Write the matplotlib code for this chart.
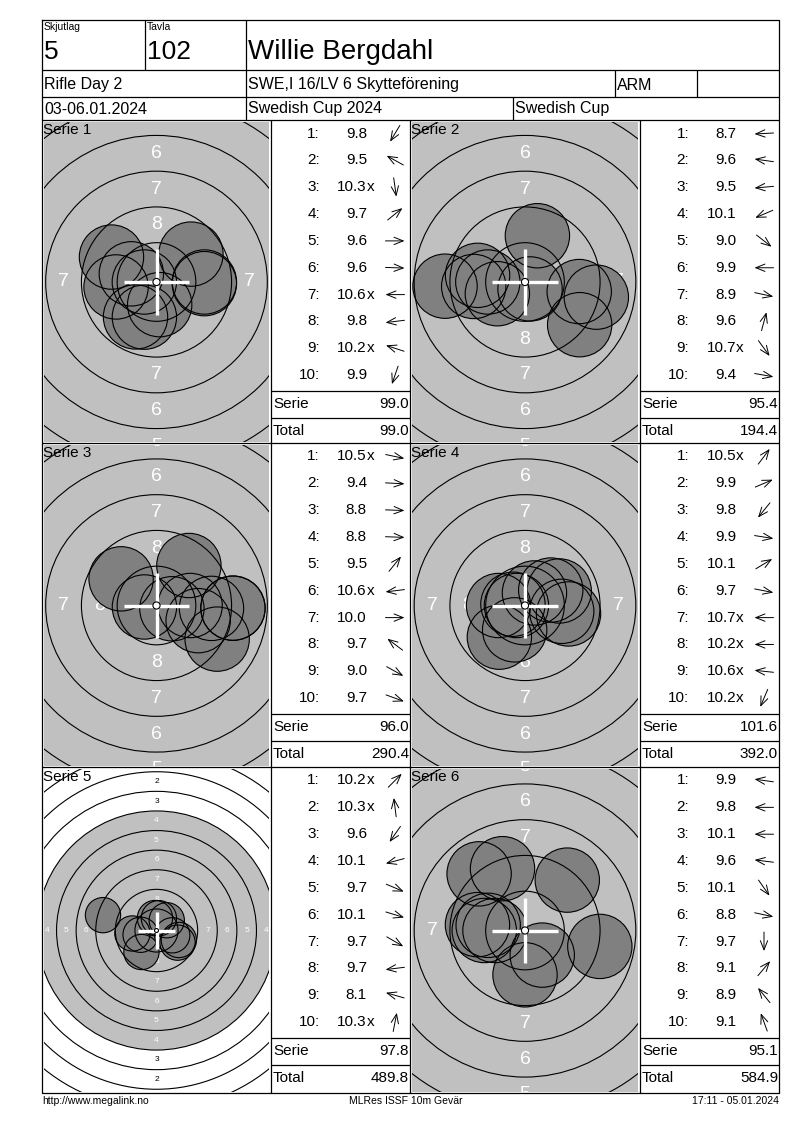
import numpy as np
import matplotlib.pyplot as plt
from matplotlib.patches import Circle

plt.rcParams['font.family'] = ['Liberation Sans', 'DejaVu Sans']

# header info
relay = "5"
lane = "102"
shooter = "Willie Bergdahl"
event = "Rifle Day 2"
club = "SWE,I 16/LV 6 Skytteförening"
nation = "ARM"
dates = "03-06.01.2024"
competition = "Swedish Cup 2024"
cup = "Swedish Cup"
footer_left = "http://www.megalink.no"
footer_mid = "MLRes ISSF 10m Gevär"
footer_right = "17:11 - 05.01.2024"

# shots per series: score (x = inner ten) and direction (degrees, 0 = right, ccw)
s1_scores = ["9.8", "9.5", "10.3x", "9.7", "9.6", "9.6", "10.6x", "9.8", "10.2x", "9.9"]
s1_dirs = [239, 151, 278, 39, 0, 358, 180, 187, 162, 251]
s2_scores = ["8.7", "9.6", "9.5", "10.1", "9.0", "9.9", "8.9", "9.6", "10.7x", "9.4"]
s2_dirs = [183, 172, 185, 203, 322, 180, 348, 75, 306, 350]
s3_scores = ["10.5x", "9.4", "8.8", "8.8", "9.5", "10.6x", "10.0", "9.7", "9.0", "9.7"]
s3_dirs = [348, 357, 358, 358, 51, 187, 0, 143, 331, 340]
s4_scores = ["10.5x", "9.9", "9.8", "9.9", "10.1", "9.7", "10.7x", "10.2x", "10.6x", "10.2x"]
s4_dirs = [53, 23, 231, 351, 31, 349, 180, 180, 174, 247]
s5_scores = ["10.2x", "10.3x", "9.6", "10.1", "9.7", "10.1", "9.7", "9.7", "8.1", "10.3x"]
s5_dirs = [45, 97, 235, 195, 337, 343, 330, 187, 164, 79]
s6_scores = ["9.9", "9.8", "10.1", "9.6", "10.1", "8.8", "9.7", "9.1", "8.9", "9.1"]
s6_dirs = [172, 180, 180, 173, 305, 348, 270, 50, 129, 110]

series_scores = [s1_scores, s2_scores, s3_scores, s4_scores, s5_scores, s6_scores]
series_dirs = [s1_dirs, s2_dirs, s3_dirs, s4_dirs, s5_dirs, s6_dirs]

# display zoom of each target (px per mm) and ring number size
px_per_mm = [14.3, 14.3, 14.3, 14.3, 7.84, 14.3]
label_size = [14, 14, 14, 14, 6, 14]

W, H = 800, 1130
fig = plt.figure(figsize=(8, 11.3), dpi=100)

# ISSF 10m air rifle target, outer radius of ring 1..10 in mm
ring_r = [0.25 + (10 - n) * 2.5 for n in range(1, 11)]
pellet_r = 2.25
GRAY = '#c0c0c0'
SHOT = '#808080'


def draw_target(k, left, top, right, bottom):
    scale = px_per_mm[k]
    tax = fig.add_axes([left / W, 1 - bottom / H, (right - left) / W, (bottom - top) / H])
    hw = (right - left) / 2 / scale
    hh = (bottom - top) / 2 / scale
    tax.set_xlim(-hw, hw)
    tax.set_ylim(-hh, hh)
    tax.axis('off')
    tax.add_patch(Circle((0, 0), ring_r[3], fc=GRAY, ec='none', zorder=1))
    # ring numbers, only those that reach into the view
    pad = 6 / scale
    for n in range(1, 9):
        rm = (ring_r[n - 1] + ring_r[n]) / 2
        col = 'white' if rm < ring_r[3] else 'black'
        for px, py in [(0, rm), (0, -rm), (-rm, 0), (rm, 0)]:
            if abs(px) > hw + pad or abs(py) > hh + pad:
                continue
            tax.text(px, py, str(n), color=col, fontsize=label_size[k],
                     ha='center', va='center', zorder=2, clip_on=True)
    scores = [float(s.rstrip('x')) for s in series_scores[k]]
    ang = np.radians(series_dirs[k])
    dist = (10.9 - np.array(scores)) * 2.5 + 0.1
    xs = dist * np.cos(ang)
    ys = dist * np.sin(ang)
    for x, y in zip(xs, ys):
        tax.add_patch(Circle((x, y), pellet_r, fc=SHOT, ec='none', zorder=3))
    for r in ring_r[:9]:
        tax.add_patch(Circle((0, 0), r, fc='none', ec='black', lw=0.8, zorder=4))
    for x, y in zip(xs, ys):
        tax.add_patch(Circle((x, y), pellet_r, fc='none', ec='black', lw=0.8, zorder=5))
    c = 2.3
    tax.plot([-c, c], [0, 0], color='white', lw=2.4, zorder=6, solid_capstyle='butt')
    tax.plot([0, 0], [-c, c], color='white', lw=2.4, zorder=6, solid_capstyle='butt')
    tax.add_patch(Circle((0, 0), ring_r[9], fc='white', ec='black', lw=0.8, zorder=7))


col_left = [42, 410]
tab_left = [271, 640]
tab_right = [410, 779]
row_top = [120, 443, 767]
row_bot = [443, 767, 1093]

for k in range(6):
    r, c = divmod(k, 2)
    draw_target(k, col_left[c] + 2, row_top[r] + 2, tab_left[c] - 2, row_bot[r] - 1)

# overlay axes in pixel coordinates for the sheet
ax = fig.add_axes([0, 0, 1, 1], zorder=10)
ax.set_xlim(0, W)
ax.set_ylim(H, 0)
ax.axis('off')

lw = 0.9
ax.plot([42, 779, 779, 42, 42], [20, 20, 1093, 1093, 20], color='black', lw=lw)
ax.hlines([70, 97, 120, 443, 767], 42, 779, color='black', lw=lw)
ax.vlines([145], 20, 70, color='black', lw=lw)
ax.vlines([246], 20, 120, color='black', lw=lw)
ax.vlines([615, 697], 70, 97, color='black', lw=lw)
ax.vlines([513], 97, 120, color='black', lw=lw)
ax.vlines([271, 410, 640], 120, 1093, color='black', lw=lw)

ax.text(44, 27, "Skjutlag", fontsize=7.5, va='center')
ax.text(147, 27, "Tavla", fontsize=7.5, va='center')
ax.text(44, 52, relay, fontsize=19, va='center')
ax.text(147, 52, lane, fontsize=19, va='center')
ax.text(248, 52, shooter, fontsize=20, va='center')
ax.text(44, 85, event, fontsize=11.5, va='center')
ax.text(248, 85, club, fontsize=11.5, va='center')
ax.text(617, 85, nation, fontsize=11.5, va='center')
ax.text(44, 109, dates, fontsize=11.5, va='center')
ax.text(248, 109, competition, fontsize=11.5, va='center')
ax.text(515, 109, cup, fontsize=11.5, va='center')

ax.text(42, 1101, footer_left, fontsize=7.5, va='center')
ax.text(406, 1101, footer_mid, fontsize=7.5, va='center', ha='center')
ax.text(779, 1101, footer_right, fontsize=7.5, va='center', ha='right')

total = 0.0
for k in range(6):
    r, c = divmod(k, 2)
    yt = row_top[r]
    tl, tr = tab_left[c], tab_right[c]
    ax.text(col_left[c] + 1, yt + 10, f"Serie {k + 1}", fontsize=11, va='center')
    scores = series_scores[k]
    for i, s in enumerate(scores):
        y = yt + 13.5 + 26.85 * i
        ax.text(tl + 49, y, f"{i + 1}:", fontsize=11, ha='right', va='center')
        ax.text(tl + 96, y, s.rstrip('x'), fontsize=11, ha='right', va='center')
        if s.endswith('x'):
            ax.text(tl + 96, y, "x", fontsize=11, ha='left', va='center')
        a = np.radians(series_dirs[k][i])
        cx, L = tl + 124, 9.5
        ax.annotate('', xy=(cx + L * np.cos(a), y - L * np.sin(a)),
                    xytext=(cx - L * np.cos(a), y + L * np.sin(a)),
                    arrowprops=dict(arrowstyle='->,head_length=0.55,head_width=0.22',
                                    color='black', lw=0.7, shrinkA=0, shrinkB=0,
                                    mutation_scale=12))
    ser = sum(float(s.rstrip('x')) for s in scores)
    total += ser
    ax.hlines([yt + 271, yt + 298], tl, tr, color='black', lw=lw)
    ax.text(tl + 2, yt + 284, "Serie", fontsize=11, va='center')
    ax.text(tr - 1, yt + 284, f"{ser:.1f}", fontsize=11, va='center', ha='right')
    ax.text(tl + 2, yt + 311, "Total", fontsize=11, va='center')
    ax.text(tr - 1, yt + 311, f"{total:.1f}", fontsize=11, va='center', ha='right')

fig.savefig('out.png', dpi=100, facecolor='white')
